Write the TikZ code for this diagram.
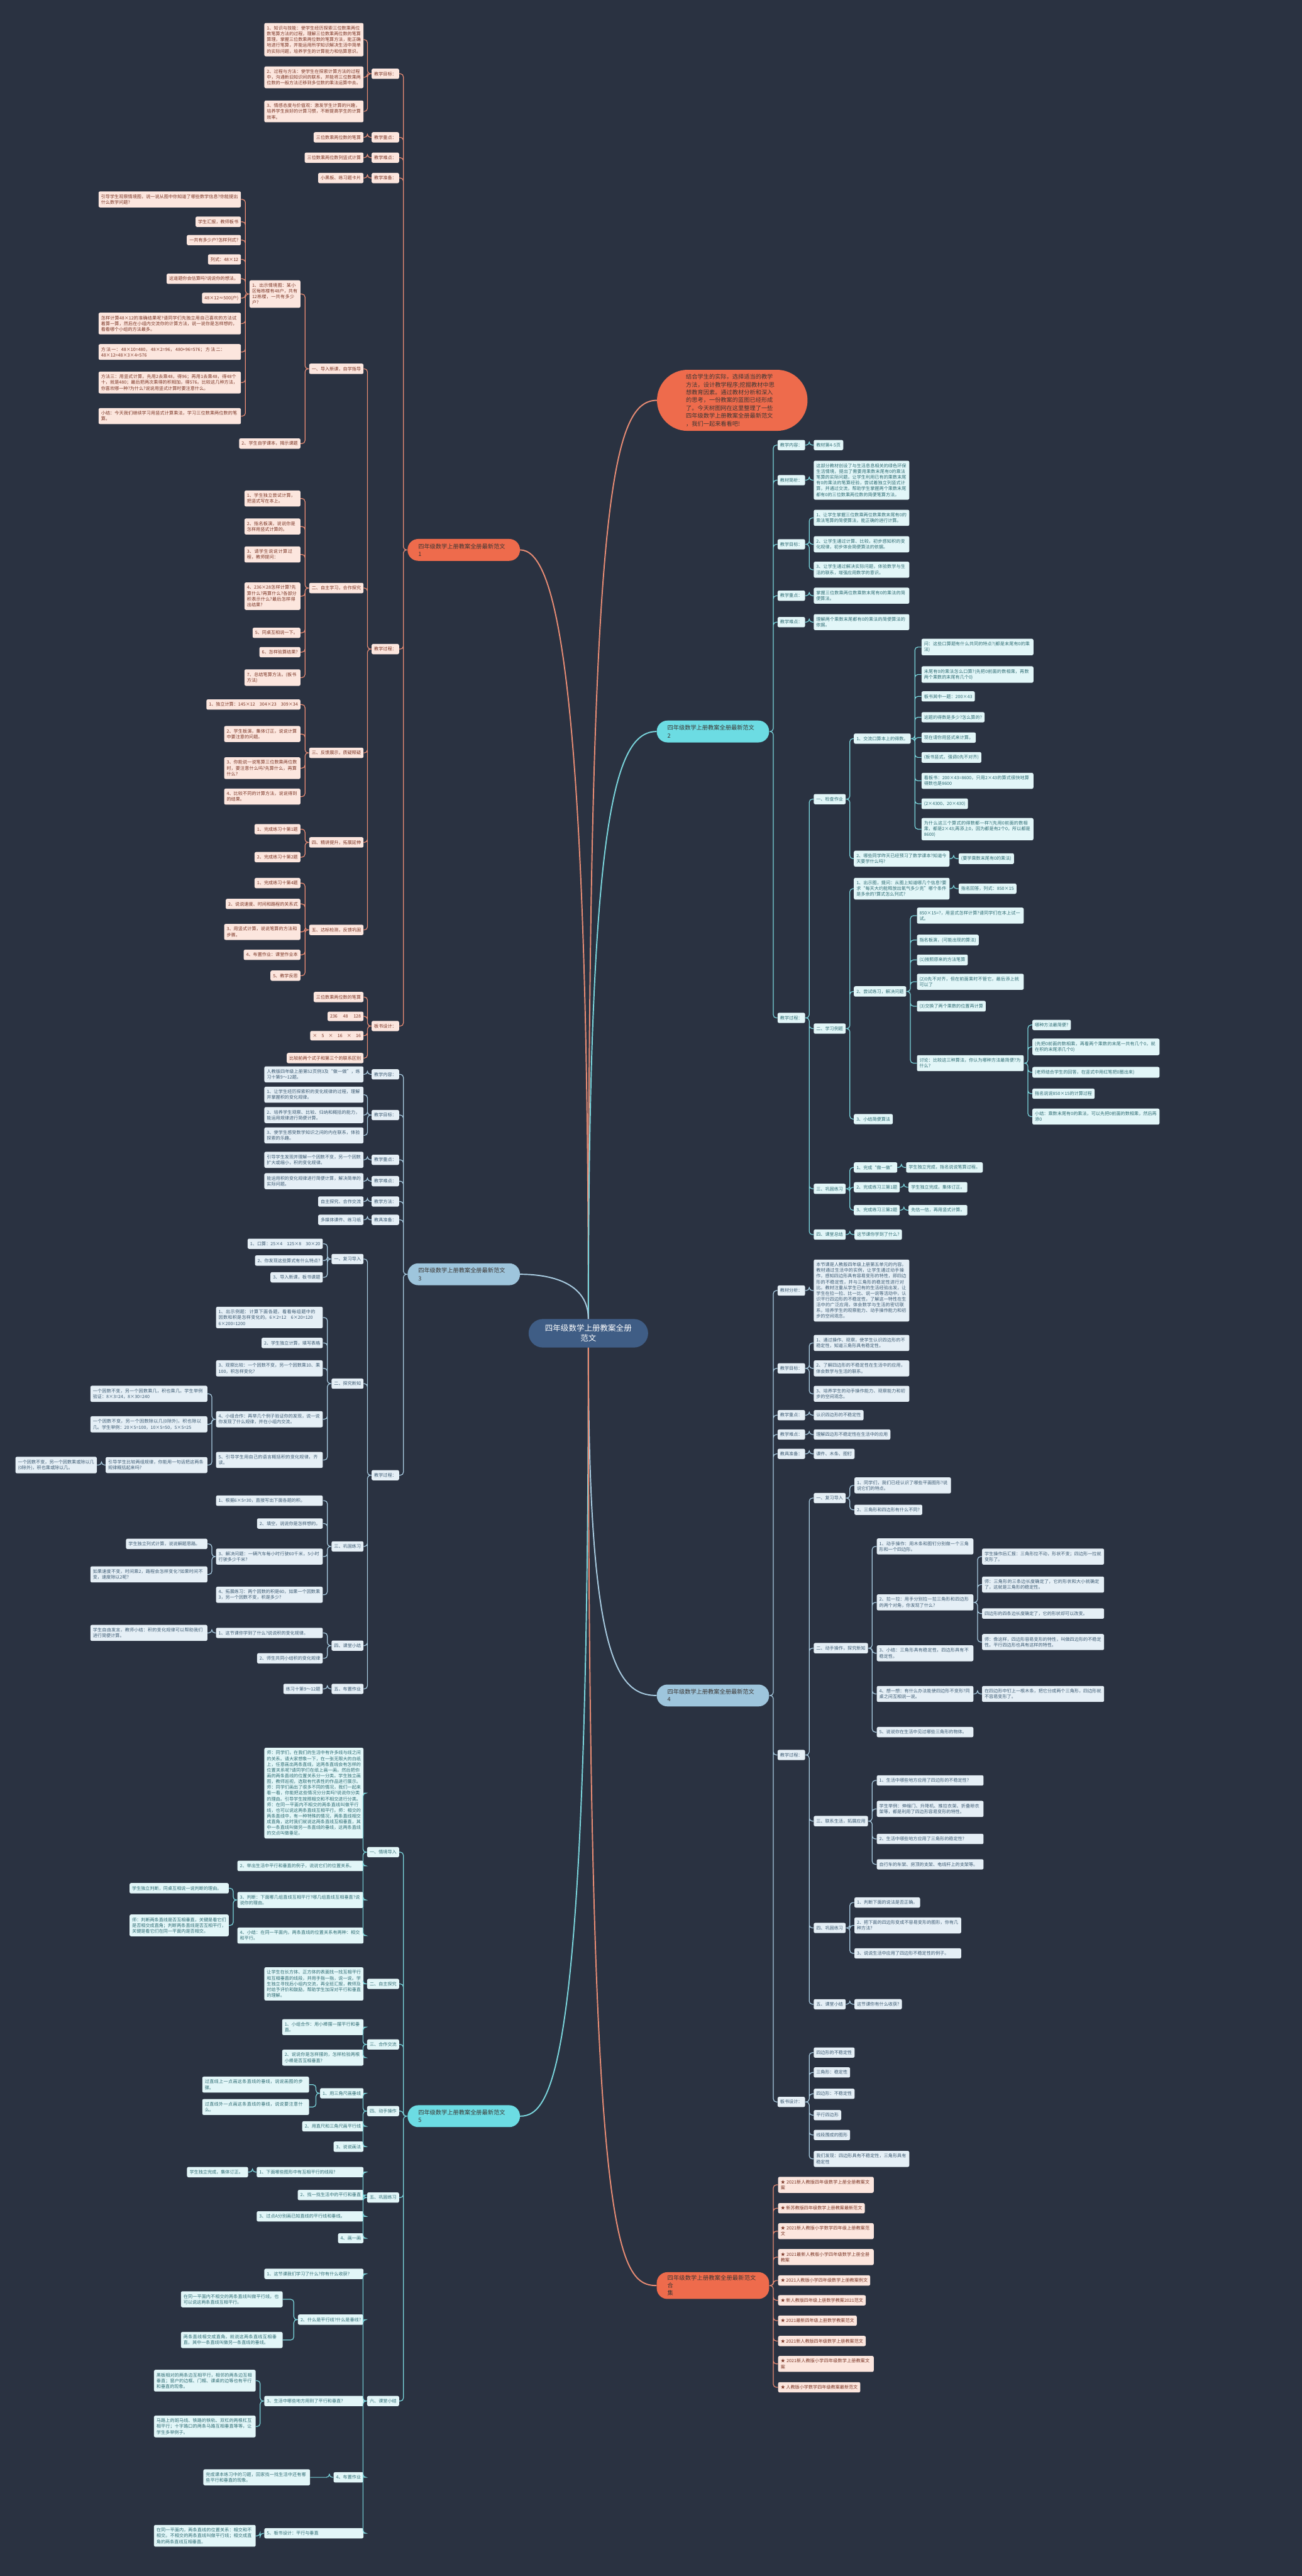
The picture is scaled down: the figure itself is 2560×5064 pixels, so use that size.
\documentclass[tikz,border=0pt]{standalone}
\usepackage{fontspec}
\setmainfont{Noto Sans CJK SC}
\XeTeXlinebreaklocale "zh"
\XeTeXlinebreakskip = 0pt plus 1pt
\usetikzlibrary{positioning}
\definecolor{bgc}{HTML}{2A3241}
\definecolor{hubc}{HTML}{3F5D85}
\definecolor{orn}{HTML}{EE6B4C}
\definecolor{ornln}{HTML}{E88C74}
\definecolor{ornbg}{HTML}{FCE6DE}
\definecolor{orntx}{HTML}{7A3424}
\definecolor{tea}{HTML}{6CDCE3}
\definecolor{tealn}{HTML}{7AD5DC}
\definecolor{teabg}{HTML}{E2F6F8}
\definecolor{teatx}{HTML}{2D6B72}
\definecolor{sky}{HTML}{9EC5DC}
\definecolor{skyln}{HTML}{A8CBE0}
\definecolor{skybg}{HTML}{E5EFF6}
\definecolor{skytx}{HTML}{3C5A72}
\definecolor{toptx}{HTML}{3B3633}

\begin{document}
\begin{tikzpicture}[x=1pt, y=-1pt,
  hub/.style={fill=hubc, text=white, rounded corners=28pt, minimum width=235pt, minimum height=56pt, align=center, font=\fontsize{15.5}{20}\selectfont},
  topic/.style={rounded corners=21pt, minimum width=221pt, minimum height=43pt, inner xsep=21pt, inner ysep=6pt, text width=179pt, align=left, text=toptx, font=\fontsize{11.4}{15}\selectfont},
  bubble/.style={fill=orn, rounded corners=60pt, minimum width=296pt, minimum height=120pt, text width=182pt, align=left, text=toptx, font=\fontsize{11.4}{15.3}\selectfont},
  leaf/.style={rounded corners=3pt, inner xsep=5pt, inner ysep=6pt, align=left, font=\fontsize{8.8}{11.3}\selectfont},
  ol/.style={leaf, fill=ornbg, text=orntx},
  tl/.style={leaf, fill=teabg, text=teatx},
  sl/.style={leaf, fill=skybg, text=skytx},
  link/.style={line width=1.5pt, rounded corners=6pt},
  main/.style={line width=2.4pt},
  lk/.style={to path={(\tikztostart.west) -- ++(-8,0) |- (\tikztotarget.east)}},
  rk/.style={to path={(\tikztostart.east) -- ++(8,0) |- (\tikztotarget.west)}}
]
\fill[bgc] (0,0) rectangle (2560,5064);
\useasboundingbox (0,0) rectangle (2560,5064);

% centre
\node[hub] (hub) at (1157,2621) {四年级数学上册教案全册\\范文};

% intro
\node[bubble] (intro) at (1440,787) {结合学生的实际，选择适当的教学\\方法，设计教学程序;挖掘教材中思\\想教育因素。通过教材分析和深入\\的思考，一份教案的蓝图已经形成\\了。今天树图网在这里整理了一些\\四年级数学上册教案全册最新范文\\，我们一起来看看吧!};

% ---------------- 范文1 ----------------
\node[topic, fill=orn] (m1) at (912,1081) {四年级数学上册教案全册最新范文\\1};
\node[ol, anchor=east] (goalA) at (785,145) {教学目标：};
\node[ol, anchor=east] (keyA) at (785,270) {教学重点：};
\node[ol, anchor=east] (hardA) at (785,310) {教学难点：};
\node[ol, anchor=east] (prepA) at (785,350) {教学准备：};
\node[ol, anchor=east] (procA) at (785,1276) {教学过程：};
\node[ol, anchor=east] (boardA) at (785,2017) {板书设计：};

\node[ol, anchor=east, text width=185pt] (goalA1) at (715,78) {1、知识与技能：使学生经历探索三位数乘两位数笔算方法的过程，理解三位数乘两位数的笔算算理，掌握三位数乘两位数的笔算方法，能正确地进行笔算，并能运用所学知识解决生活中简单的实际问题，培养学生的计算能力和估算意识。};
\node[ol, anchor=east, text width=185pt] (goalA2) at (715,152) {2、过程与方法：使学生在探索计算方法的过程中，沟通新旧知识间的联系，并能将三位数乘两位数的一般方法迁移到多位数的乘法运算中去。};
\node[ol, anchor=east, text width=185pt] (goalA3) at (715,219) {3、情感态度与价值观：激发学生计算的兴趣，培养学生良好的计算习惯，不断提高学生的计算效率。};
\node[ol, anchor=east] (keyA1) at (715,270) {三位数乘两位数的笔算};
\node[ol, anchor=east] (hardA1) at (715,310) {三位数乘两位数列竖式计算};
\node[ol, anchor=east] (prepA1) at (715,350) {小黑板、练习题卡片};

\node[ol, anchor=east] (procA1) at (715,725) {一、导入新课，自学指导};
\node[ol, anchor=east] (procA2) at (715,1156) {二、自主学习，合作探究};
\node[ol, anchor=east] (procA3) at (715,1480) {三、反馈展示，质疑释疑};
\node[ol, anchor=east] (procA4) at (715,1656) {四、精讲提升，拓展延伸};
\node[ol, anchor=east] (procA5) at (715,1828) {五、达标检测，反馈巩固};

\node[ol, anchor=east, text width=90pt] (introA1) at (591,578) {1、出示情境图：某小区每栋楼有48户，共有12栋楼，一共有多少户?};
\node[ol, anchor=east] (introA2) at (591,872) {2、学生自学课本，揭示课题};

\node[ol, anchor=east, text width=270pt] (sitA1) at (474,392) {引导学生观察情境图，说一说从图中你知道了哪些数学信息?你能提出什么数学问题?};
\node[ol, anchor=east] (sitA2) at (474,436) {学生汇报，教师板书};
\node[ol, anchor=east] (sitA3) at (474,472) {一共有多少户?怎样列式?};
\node[ol, anchor=east] (sitA4) at (474,510) {列式：48×12};
\node[ol, anchor=east] (sitA5) at (474,548) {这道题你会估算吗?说说你的想法。};
\node[ol, anchor=east] (sitA6) at (474,586) {48×12≈500(户)};
\node[ol, anchor=east, text width=270pt] (sitA7) at (474,636) {怎样计算48×12的准确结果呢?请同学们先独立用自己喜欢的方法试着算一算，然后在小组内交流你的计算方法，说一说你是怎样想的，看看哪个小组的方法最多。};
\node[ol, anchor=east, text width=270pt] (sitA8) at (474,692) {方法一：48×10=480，48×2=96，480+96=576；方法二：48×12=48×3×4=576};
\node[ol, anchor=east, text width=270pt] (sitA9) at (474,752) {方法三：用竖式计算，先用2去乘48，得96；再用1去乘48，得48个十，就是480；最后把两次乘得的积相加，得576。比较这几种方法，你喜欢哪一种?为什么?说说用竖式计算时要注意什么。};
\node[ol, anchor=east, text width=270pt] (sitA10) at (474,818) {小结：今天我们继续学习用竖式计算乘法，学习三位数乘两位数的笔算。};

\node[ol, anchor=east, text width=100pt] (selfA1) at (591,980) {1、学生独立尝试计算，把竖式写在本上。};
\node[ol, anchor=east, text width=100pt] (selfA2) at (591,1035) {2、指名板演，说说你是怎样用竖式计算的。};
\node[ol, anchor=east, text width=100pt] (selfA3) at (591,1090) {3、请学生说说计算过程，教师提问：};
\node[ol, anchor=east, text width=100pt] (selfA4) at (591,1172) {4、236×28怎样计算?先算什么?再算什么?各部分积表示什么?最后怎样得出结果?};
\node[ol, anchor=east] (selfA5) at (591,1244) {5、同桌互相说一下。};
\node[ol, anchor=east] (selfA6) at (591,1282) {6、怎样验算结果?};
\node[ol, anchor=east, text width=100pt] (selfA7) at (591,1332) {7、总结笔算方法。(板书方法)};

\node[ol, anchor=east] (showA1) at (591,1385) {1、独立计算：145×12　304×23　309×34};
\node[ol, anchor=east, text width=140pt] (showA2) at (591,1443) {2、学生板演，集体订正，说说计算中要注意的问题。};
\node[ol, anchor=east, text width=140pt] (showA3) at (591,1510) {3、你能说一说笔算三位数乘两位数时，要注意什么吗?先算什么，再算什么?};
\node[ol, anchor=east, text width=140pt] (showA4) at (591,1566) {4、比较不同的计算方法，说说得到的结果。};
\node[ol, anchor=east] (upA1) at (591,1630) {1、完成练习十第1题};
\node[ol, anchor=east] (upA2) at (591,1685) {2、完成练习十第2题};
\node[ol, anchor=east] (testA1) at (591,1736) {1、完成练习十第4题};
\node[ol, anchor=east] (testA2) at (591,1777) {2、说说速度、时间和路程的关系式};
\node[ol, anchor=east, text width=140pt] (testA3) at (591,1832) {3、用竖式计算，说说笔算的方法和步骤。};
\node[ol, anchor=east] (testA4) at (591,1877) {4、布置作业：课堂作业本};
\node[ol, anchor=east] (testA5) at (591,1918) {5、教学反思};

\node[ol, anchor=east] (boardA1) at (715,1960) {三位数乘两位数的笔算};
\node[ol, anchor=east] (boardA2) at (715,1998) {236　 48　 128};
\node[ol, anchor=east] (boardA3) at (715,2036) {×　5　×　16　×　16};
\node[ol, anchor=east] (boardA4) at (715,2080) {比较前两个式子和第三个的联系区别};

\draw[link, draw=ornln, lk] (m1) to (goalA) (m1) to (keyA) (m1) to (hardA) (m1) to (prepA) (m1) to (procA) (m1) to (boardA);
\draw[link, draw=ornln, lk] (goalA) to (goalA1) (goalA) to (goalA2) (goalA) to (goalA3);
\draw[link, draw=ornln, lk] (keyA) to (keyA1) (hardA) to (hardA1) (prepA) to (prepA1);
\draw[link, draw=ornln, lk] (procA) to (procA1) (procA) to (procA2) (procA) to (procA3) (procA) to (procA4) (procA) to (procA5);
\draw[link, draw=ornln, lk] (procA1) to (introA1) (procA1) to (introA2);
\draw[link, draw=ornln, lk] (introA1) to (sitA1) (introA1) to (sitA2) (introA1) to (sitA3) (introA1) to (sitA4) (introA1) to (sitA5) (introA1) to (sitA6) (introA1) to (sitA7) (introA1) to (sitA8) (introA1) to (sitA9) (introA1) to (sitA10);
\draw[link, draw=ornln, lk] (procA2) to (selfA1) (procA2) to (selfA2) (procA2) to (selfA3) (procA2) to (selfA4) (procA2) to (selfA5) (procA2) to (selfA6) (procA2) to (selfA7);
\draw[link, draw=ornln, lk] (procA3) to (showA1) (procA3) to (showA2) (procA3) to (showA3) (procA3) to (showA4);
\draw[link, draw=ornln, lk] (procA4) to (upA1) (procA4) to (upA2);
\draw[link, draw=ornln, lk] (procA5) to (testA1) (procA5) to (testA2) (procA5) to (testA3) (procA5) to (testA4) (procA5) to (testA5);
\draw[link, draw=ornln, lk] (boardA) to (boardA1) (boardA) to (boardA2) (boardA) to (boardA3) (boardA) to (boardA4);

% ---------------- 范文2 ----------------
\node[topic, fill=tea] (m2) at (1402,1438) {四年级数学上册教案全册最新范文\\2};
\node[tl, anchor=west] (contC) at (1529,875) {教学内容：};
\node[tl, anchor=west] (anaC) at (1529,944) {教材简析：};
\node[tl, anchor=west] (goalC) at (1529,1070) {教学目标：};
\node[tl, anchor=west] (keyC) at (1529,1171) {教学重点：};
\node[tl, anchor=west] (hardC) at (1529,1223) {教学难点：};
\node[tl, anchor=west] (procC) at (1529,2001) {教学过程：};

\node[tl, anchor=west] (contC1) at (1600,875) {教材第4-5页};
\node[tl, anchor=west, text width=178pt] (anaC1) at (1600,944) {这部分教材创设了与生活息息相关的绿色环保生活情境，提出了需要用乘数末尾有0的乘法笔算的实际问题，让学生利用已有的乘数末尾有0的乘法的笔算经验，尝试着独立列竖式计算，并通过交流，帮助学生掌握两个乘数末尾都有0的三位数乘两位数的简便笔算方法。};
\node[tl, anchor=west, text width=178pt] (goalC1) at (1600,1018) {1、让学生掌握三位数乘两位数乘数末尾有0的乘法笔算的简便算法，能正确的进行计算。};
\node[tl, anchor=west, text width=178pt] (goalC2) at (1600,1070) {2、让学生通过计算、比较，初步感知积的变化规律，初步体会简便算法的依据。};
\node[tl, anchor=west, text width=178pt] (goalC3) at (1600,1120) {3、让学生通过解决实际问题，体验数学与生活的联系，增强应用数学的意识。};
\node[tl, anchor=west, text width=178pt] (keyC1) at (1600,1171) {掌握三位数乘两位数乘数末尾有0的乘法的简便算法。};
\node[tl, anchor=west, text width=178pt] (hardC1) at (1600,1223) {理解两个乘数末尾都有0的乘法的简便算法的依据。};

\node[tl, anchor=west] (procC1) at (1600,1571) {一、检查作业};
\node[tl, anchor=west] (procC2) at (1600,2022) {二、学习例题};
\node[tl, anchor=west] (procC3) at (1600,2337) {三、巩固练习};
\node[tl, anchor=west] (procC4) at (1600,2427) {四、课堂总结};

\node[tl, anchor=west] (checkC1) at (1679,1452) {1、交流口算本上的得数。};
\node[tl, anchor=west, text width=178pt] (checkC2) at (1679,1688) {2、哪些同学昨天已经预习了数学课本?知道今天要学什么吗?};
\node[tl, anchor=west, text width=210pt] (oralC1) at (1812,1272) {问：这些口算题有什么共同的特点?(都是末尾有0的乘法)};
\node[tl, anchor=west, text width=210pt] (oralC2) at (1812,1326) {末尾有0的乘法怎么口算?(先把0前面的数相乘，再数两个乘数的末尾有几个0)};
\node[tl, anchor=west] (oralC3) at (1812,1369) {板书其中一题：200×43};
\node[tl, anchor=west] (oralC4) at (1812,1410) {这题的得数是多少?怎么算的?};
\node[tl, anchor=west] (oralC5) at (1812,1450) {现在请你用竖式来计算。};
\node[tl, anchor=west] (oralC6) at (1812,1489) {(板书竖式，强调0先不对齐)};
\node[tl, anchor=west, text width=210pt] (oralC7) at (1812,1535) {看板书：200×43=8600，只用2×43的算式很快地算得数也是8600};
\node[tl, anchor=west] (oralC8) at (1812,1580) {(2×4300、20×430)};
\node[tl, anchor=west, text width=210pt] (oralC9) at (1812,1630) {为什么这三个算式的得数都一样?(先用0前面的数相乘，都是2×43;再添上0，因为都是有2个0，所以都是8600)};
\node[tl, anchor=west] (preC1) at (1885,1688) {(要学乘数末尾有0的乘法)};

\node[tl, anchor=west, text width=178pt] (exC1) at (1679,1747) {1、出示图，提问：从图上知道哪几个信息?要求“每天大约能释放出氧气多少克”哪个条件是多余的?算式怎么列式?};
\node[tl, anchor=west] (exC1a) at (1885,1747) {指名回答，列式：850×15};
\node[tl, anchor=west] (exC2) at (1679,1949) {2、尝试练习，解决问题};
\node[tl, anchor=west] (exC3) at (1679,2200) {3、小结简便算法};
\node[tl, anchor=west, text width=200pt] (tryC1) at (1803,1800) {850×15=?，用竖式怎样计算?请同学们在本上试一试。};
\node[tl, anchor=west] (tryC2) at (1803,1848) {指名板演，(可能出现的算法)};
\node[tl, anchor=west] (tryC3) at (1803,1887) {(1)按照原来的方法笔算};
\node[tl, anchor=west, text width=200pt] (tryC4) at (1803,1930) {(2)0先不对齐，但在前面乘时不管它，最后添上就可以了};
\node[tl, anchor=west] (tryC5) at (1803,1978) {(3)交换了两个乘数的位置再计算};
\node[tl, anchor=west, text width=200pt] (tryC6) at (1803,2090) {讨论：比较这三种算法，你认为哪种方法最简便?为什么?};
\node[tl, anchor=west] (talkC1) at (2030,2015) {哪种方法最简便?};
\node[tl, anchor=west, text width=240pt] (talkC2) at (2030,2058) {(先把0前面的数相乘，再看两个乘数的末尾一共有几个0，就在积的末尾添几个0)};
\node[tl, anchor=west, text width=240pt] (talkC3) at (2030,2108) {(老师结合学生的回答，在竖式中用红笔把0圈出来)};
\node[tl, anchor=west] (talkC4) at (2030,2150) {指名说说850×15的计算过程};
\node[tl, anchor=west, text width=240pt] (talkC5) at (2030,2195) {小结：乘数末尾有0的乘法，可以先把0前面的数相乘，然后再添0};

\node[tl, anchor=west] (pracC1) at (1679,2295) {1、完成“做一做”};
\node[tl, anchor=west] (pracC2) at (1679,2334) {2、完成练习三第1题};
\node[tl, anchor=west] (pracC3) at (1679,2379) {3、完成练习三第2题};
\node[tl, right=17pt of pracC1] (pracC1a) {学生独立完成，指名说说笔算过程。};
\node[tl, right=17pt of pracC2] (pracC2a) {学生独立完成，集体订正。};
\node[tl, right=17pt of pracC3] (pracC3a) {先估一估，再用竖式计算。};
\node[tl, right=17pt of procC4] (sumC1) {这节课你学到了什么?};

\draw[link, draw=tealn, rk] (m2) to (contC) (m2) to (anaC) (m2) to (goalC) (m2) to (keyC) (m2) to (hardC) (m2) to (procC);
\draw[link, draw=tealn, rk] (contC) to (contC1) (anaC) to (anaC1) (keyC) to (keyC1) (hardC) to (hardC1);
\draw[link, draw=tealn, rk] (goalC) to (goalC1) (goalC) to (goalC2) (goalC) to (goalC3);
\draw[link, draw=tealn, rk] (procC) to (procC1) (procC) to (procC2) (procC) to (procC3) (procC) to (procC4);
\draw[link, draw=tealn, rk] (procC1) to (checkC1) (procC1) to (checkC2);
\draw[link, draw=tealn, rk] (checkC1) to (oralC1) (checkC1) to (oralC2) (checkC1) to (oralC3) (checkC1) to (oralC4) (checkC1) to (oralC5) (checkC1) to (oralC6) (checkC1) to (oralC7) (checkC1) to (oralC8) (checkC1) to (oralC9);
\draw[link, draw=tealn, rk] (checkC2) to (preC1);
\draw[link, draw=tealn, rk] (procC2) to (exC1) (procC2) to (exC2) (procC2) to (exC3) (exC1) to (exC1a);
\draw[link, draw=tealn, rk] (exC2) to (tryC1) (exC2) to (tryC2) (exC2) to (tryC3) (exC2) to (tryC4) (exC2) to (tryC5) (exC2) to (tryC6);
\draw[link, draw=tealn, rk] (tryC6) to (talkC1) (tryC6) to (talkC2) (tryC6) to (talkC3) (tryC6) to (talkC4) (tryC6) to (talkC5);
\draw[link, draw=tealn, rk] (procC3) to (pracC1) (procC3) to (pracC2) (procC3) to (pracC3);
\draw[link, draw=tealn, rk] (pracC1) to (pracC1a) (pracC2) to (pracC2a) (pracC3) to (pracC3a) (procC4) to (sumC1);

% ---------------- 范文3 ----------------
\node[topic, fill=sky] (m3) at (912,2505) {四年级数学上册教案全册最新范文\\3};
\node[sl, anchor=east] (contD) at (785,2112) {教学内容：};
\node[sl, anchor=east] (goalD) at (785,2192) {教学目标：};
\node[sl, anchor=east] (keyD) at (785,2280) {教学重点：};
\node[sl, anchor=east] (hardD) at (785,2322) {教学难点：};
\node[sl, anchor=east] (methD) at (785,2362) {教学方法：};
\node[sl, anchor=east] (prepD) at (785,2398) {教具准备：};
\node[sl, anchor=east] (procD) at (785,2900) {教学过程：};

\node[sl, anchor=east, text width=185pt] (contD1) at (715,2112) {人教版四年级上册第52页例3及“做一做”，练习十第9～12题。};
\node[sl, anchor=east, text width=185pt] (goalD1) at (715,2152) {1、让学生经历探索积的变化规律的过程，理解并掌握积的变化规律。};
\node[sl, anchor=east, text width=185pt] (goalD2) at (715,2192) {2、培养学生观察、比较、归纳和概括的能力，能运用规律进行简便计算。};
\node[sl, anchor=east, text width=185pt] (goalD3) at (715,2232) {3、使学生感受数学知识之间的内在联系，体验探索的乐趣。};
\node[sl, anchor=east, text width=185pt] (keyD1) at (715,2280) {引导学生发现并理解一个因数不变，另一个因数扩大或缩小，积的变化规律。};
\node[sl, anchor=east, text width=185pt] (hardD1) at (715,2322) {能运用积的变化规律进行简便计算，解决简单的实际问题。};
\node[sl, anchor=east] (methD1) at (715,2362) {自主探究、合作交流};
\node[sl, anchor=east] (prepD1) at (715,2398) {多媒体课件、练习纸};

\node[sl, anchor=east] (procD1) at (715,2475) {一、复习导入};
\node[sl, anchor=east] (procD2) at (715,2720) {二、探究新知};
\node[sl, anchor=east] (procD3) at (715,3040) {三、巩固练习};
\node[sl, anchor=east] (procD4) at (715,3235) {四、课堂小结};
\node[sl, anchor=east] (procD5) at (715,3320) {五、布置作业};

\node[sl, anchor=east] (revD1) at (635,2445) {1、口算：25×4　125×8　30×20};
\node[sl, anchor=east] (revD2) at (635,2478) {2、你发现这些算式有什么特点?};
\node[sl, anchor=east] (revD3) at (635,2511) {3、导入新课，板书课题};
\node[sl, anchor=east, text width=200pt] (expD1) at (635,2590) {1、出示例题：计算下面各题，看看每组题中的因数和积是怎样变化的。6×2=12　6×20=120　6×200=1200};
\node[sl, anchor=east] (expD2) at (635,2640) {2、学生独立计算，填写表格};
\node[sl, anchor=east, text width=200pt] (expD3) at (635,2690) {3、观察比较：一个因数不变，另一个因数乘10、乘100，积怎样变化?};
\node[sl, anchor=east, text width=200pt] (expD4) at (635,2790) {4、小组合作：再举几个例子验证你的发现，说一说你发现了什么规律，并在小组内交流。};
\node[sl, anchor=east, text width=200pt] (expD5) at (635,2870) {5、引导学生用自己的语言概括积的变化规律，齐读。};
\node[sl, anchor=east, text width=220pt] (grpD1) at (408,2740) {一个因数不变，另一个因数乘几，积也乘几。学生举例验证：8×3=24，8×30=240};
\node[sl, anchor=east, text width=220pt] (grpD2) at (408,2800) {一个因数不变，另一个因数除以几(0除外)，积也除以几。学生举例：20×5=100，10×5=50，5×5=25};
\node[sl, anchor=east, text width=190pt] (grpD3) at (408,2880) {引导学生比较两组规律，你能用一句话把这两条规律概括起来吗?};
\node[sl, left=17pt of grpD3, text width=150pt] (farD) {一个因数不变，另一个因数乘或除以几(0除外)，积也乘或除以几。};

\node[sl, anchor=east, text width=200pt] (pracD1) at (635,2950) {1、根据6×5=30，直接写出下面各题的积。};
\node[sl, anchor=east] (pracD2) at (635,2995) {2、填空，说说你是怎样想的。};
\node[sl, anchor=east, text width=200pt] (pracD3) at (635,3060) {3、解决问题：一辆汽车每小时行驶60千米，5小时行驶多少千米?};
\node[sl, anchor=east, text width=200pt] (pracD4) at (635,3135) {4、拓展练习：两个因数的积是60，如果一个因数乘3，另一个因数不变，积是多少?};
\node[sl, anchor=east, text width=150pt] (solD1) at (408,3035) {学生独立列式计算，说说解题思路。};
\node[sl, anchor=east, text width=220pt] (solD2) at (408,3095) {如果速度不变，时间乘2，路程会怎样变化?如果时间不变，速度除以2呢?};
\node[sl, anchor=east, text width=200pt] (sumD1) at (635,3210) {1、这节课你学到了什么?说说积的变化规律。};
\node[sl, anchor=east, text width=220pt] (sumD1a) at (408,3210) {学生自由发言，教师小结：积的变化规律可以帮助我们进行简便计算。};
\node[sl, anchor=east] (sumD2) at (635,3260) {2、师生共同小结积的变化规律};
\node[sl, anchor=east] (homeD1) at (635,3320) {练习十第9～12题};

\draw[link, draw=skyln, lk] (m3) to (contD) (m3) to (goalD) (m3) to (keyD) (m3) to (hardD) (m3) to (methD) (m3) to (prepD) (m3) to (procD);
\draw[link, draw=skyln, lk] (contD) to (contD1) (keyD) to (keyD1) (hardD) to (hardD1) (methD) to (methD1) (prepD) to (prepD1);
\draw[link, draw=skyln, lk] (goalD) to (goalD1) (goalD) to (goalD2) (goalD) to (goalD3);
\draw[link, draw=skyln, lk] (procD) to (procD1) (procD) to (procD2) (procD) to (procD3) (procD) to (procD4) (procD) to (procD5);
\draw[link, draw=skyln, lk] (procD1) to (revD1) (procD1) to (revD2) (procD1) to (revD3);
\draw[link, draw=skyln, lk] (procD2) to (expD1) (procD2) to (expD2) (procD2) to (expD3) (procD2) to (expD4) (procD2) to (expD5);
\draw[link, draw=skyln, lk] (expD4) to (grpD1) (expD4) to (grpD2) (expD4) to (grpD3) (grpD3) to (farD);
\draw[link, draw=skyln, lk] (procD3) to (pracD1) (procD3) to (pracD2) (procD3) to (pracD3) (procD3) to (pracD4);
\draw[link, draw=skyln, lk] (pracD3) to (solD1) (pracD3) to (solD2);
\draw[link, draw=skyln, lk] (procD4) to (sumD1) (procD4) to (sumD2) (sumD1) to (sumD1a) (procD5) to (homeD1);

% ---------------- 范文4 ----------------
\node[topic, fill=sky] (m4) at (1402,3333) {四年级数学上册教案全册最新范文\\4};
\node[sl, anchor=west] (anaE) at (1529,2537) {教材分析：};
\node[sl, anchor=west] (goalE) at (1529,2690) {教学目标：};
\node[sl, anchor=west] (keyE) at (1529,2782) {教学重点：};
\node[sl, anchor=west] (hardE) at (1529,2820) {教学难点：};
\node[sl, anchor=west] (prepE) at (1529,2858) {教具准备：};
\node[sl, anchor=west] (procE) at (1529,3450) {教学过程：};
\node[sl, anchor=west] (boardE) at (1529,4132) {板书设计：};

\node[sl, anchor=west, text width=178pt] (anaE1) at (1600,2537) {本节课是人教版四年级上册第五单元的内容。教材通过生活中的实例，让学生通过动手操作，感知四边形具有容易变形的特性，即四边形的不稳定性，并与三角形的稳定性进行对比。教材注重从学生已有的生活经验出发，让学生在拉一拉、比一比、说一说等活动中，认识平行四边形的不稳定性，了解这一特性在生活中的广泛应用，体会数学与生活的密切联系，培养学生的观察能力、动手操作能力和初步的空间观念。};
\node[sl, anchor=west, text width=178pt] (goalE1) at (1600,2640) {1、通过操作、观察，使学生认识四边形的不稳定性，知道三角形具有稳定性。};
\node[sl, anchor=west, text width=178pt] (goalE2) at (1600,2690) {2、了解四边形的不稳定性在生活中的应用，体会数学与生活的联系。};
\node[sl, anchor=west, text width=178pt] (goalE3) at (1600,2740) {3、培养学生的动手操作能力、观察能力和初步的空间观念。};
\node[sl, anchor=west] (keyE1) at (1600,2782) {认识四边形的不稳定性};
\node[sl, anchor=west] (hardE1) at (1600,2820) {理解四边形不稳定性在生活中的应用};
\node[sl, anchor=west] (prepE1) at (1600,2858) {课件、木条、图钉};

\node[sl, anchor=west] (procE1) at (1600,2945) {一、复习导入};
\node[sl, anchor=west] (procE2) at (1600,3240) {二、动手操作，探究新知};
\node[sl, anchor=west] (procE3) at (1600,3580) {三、联系生活，拓展应用};
\node[sl, anchor=west] (procE4) at (1600,3790) {四、巩固练习};
\node[sl, anchor=west] (procE5) at (1600,3940) {五、课堂小结};

\node[sl, anchor=west, text width=180pt] (revE1) at (1680,2920) {1、同学们，我们已经认识了哪些平面图形?说说它们的特点。};
\node[sl, anchor=west] (revE2) at (1680,2968) {2、三角形和四边形有什么不同?};
\node[sl, anchor=west, text width=180pt] (opE1) at (1724,3040) {1、动手操作：用木条和图钉分别做一个三角形和一个四边形。};
\node[sl, anchor=west, text width=180pt] (opE2) at (1724,3150) {2、拉一拉：用手分别拉一拉三角形和四边形的两个对角，你发现了什么?};
\node[sl, anchor=west, text width=180pt] (opE3) at (1724,3250) {3、小结：三角形具有稳定性，四边形具有不稳定性。};
\node[sl, anchor=west, text width=180pt] (opE4) at (1724,3330) {4、想一想：有什么办法能使四边形不变形?同桌之间互相说一说。};
\node[sl, anchor=west, text width=180pt] (opE5) at (1724,3405) {5、说说你在生活中见过哪些三角形的物体。};
\node[sl, anchor=west, text width=230pt] (obsE1) at (1931,3060) {学生操作后汇报：三角形拉不动，形状不变；四边形一拉就变形了。};
\node[sl, anchor=west, text width=230pt] (obsE2) at (1931,3115) {师：三角形的三条边长度确定了，它的形状和大小就确定了，这就是三角形的稳定性。};
\node[sl, anchor=west, text width=230pt] (obsE3) at (1931,3172) {四边形的四条边长度确定了，它的形状却可以改变。};
\node[sl, anchor=west, text width=230pt] (obsE4) at (1931,3228) {师：像这样，四边形容易变形的特性，叫做四边形的不稳定性。平行四边形也具有这样的特性。};
\node[sl, anchor=west, text width=230pt] (obsE5) at (1931,3330) {在四边形中钉上一根木条，把它分成两个三角形，四边形就不容易变形了。};
\node[sl, anchor=west, text width=200pt] (useE1) at (1724,3500) {1、生活中哪些地方应用了四边形的不稳定性?};
\node[sl, anchor=west, text width=200pt] (useE2) at (1724,3556) {学生举例：伸缩门、升降机、推拉衣架、折叠晾衣架等，都是利用了四边形容易变形的特性。};
\node[sl, anchor=west, text width=200pt] (useE3) at (1724,3615) {2、生活中哪些地方应用了三角形的稳定性?};
\node[sl, anchor=west, text width=200pt] (useE4) at (1724,3665) {自行车的车架、房顶的支架、电线杆上的支架等。};
\node[sl, anchor=west] (exE1) at (1680,3740) {1、判断下面的说法是否正确。};
\node[sl, anchor=west, text width=200pt] (exE2) at (1680,3785) {2、把下面的四边形变成不容易变形的图形，你有几种方法?};
\node[sl, anchor=west, text width=200pt] (exE3) at (1680,3840) {3、说说生活中应用了四边形不稳定性的例子。};
\node[sl, anchor=west] (sumE1) at (1680,3940) {这节课你有什么收获?};

\node[sl, anchor=west] (boardE1) at (1600,4035) {四边形的不稳定性};
\node[sl, anchor=west] (boardE2) at (1600,4074) {三角形：稳定性};
\node[sl, anchor=west] (boardE3) at (1600,4116) {四边形：不稳定性};
\node[sl, anchor=west] (boardE4) at (1600,4158) {平行四边形};
\node[sl, anchor=west] (boardE5) at (1600,4197) {线段围成的图形};
\node[sl, anchor=west, text width=178pt] (boardE6) at (1600,4244) {我们发现：四边形具有不稳定性，三角形具有稳定性};

\draw[link, draw=skyln, rk] (m4) to (anaE) (m4) to (goalE) (m4) to (keyE) (m4) to (hardE) (m4) to (prepE) (m4) to (procE) (m4) to (boardE);
\draw[link, draw=skyln, rk] (anaE) to (anaE1) (keyE) to (keyE1) (hardE) to (hardE1) (prepE) to (prepE1);
\draw[link, draw=skyln, rk] (goalE) to (goalE1) (goalE) to (goalE2) (goalE) to (goalE3);
\draw[link, draw=skyln, rk] (procE) to (procE1) (procE) to (procE2) (procE) to (procE3) (procE) to (procE4) (procE) to (procE5);
\draw[link, draw=skyln, rk] (procE1) to (revE1) (procE1) to (revE2);
\draw[link, draw=skyln, rk] (procE2) to (opE1) (procE2) to (opE2) (procE2) to (opE3) (procE2) to (opE4) (procE2) to (opE5);
\draw[link, draw=skyln, rk] (opE2) to (obsE1) (opE2) to (obsE2) (opE2) to (obsE3) (opE2) to (obsE4) (opE4) to (obsE5);
\draw[link, draw=skyln, rk] (procE3) to (useE1) (procE3) to (useE2) (procE3) to (useE3) (procE3) to (useE4);
\draw[link, draw=skyln, rk] (procE4) to (exE1) (procE4) to (exE2) (procE4) to (exE3) (procE5) to (sumE1);
\draw[link, draw=skyln, rk] (boardE) to (boardE1) (boardE) to (boardE2) (boardE) to (boardE3) (boardE) to (boardE4) (boardE) to (boardE5) (boardE) to (boardE6);

% ---------------- 范文5 ----------------
\node[topic, fill=tea] (m5) at (912,4160) {四年级数学上册教案全册最新范文\\5};
\node[tl, anchor=east] (stepF1) at (785,3641) {一、情境导入};
\node[tl, anchor=east] (stepF2) at (785,3900) {二、自主探究};
\node[tl, anchor=east] (stepF3) at (785,4019) {三、合作交流};
\node[tl, anchor=east] (stepF4) at (785,4150) {四、动手操作};
\node[tl, anchor=east] (stepF5) at (785,4320) {五、巩固练习};
\node[tl, anchor=east] (stepF6) at (785,4720) {六、课堂小结};

\node[tl, anchor=east, text width=185pt] (paraF) at (715,3525) {师：同学们，在我们的生活中有许多线与线之间的关系。请大家想象一下，在一张无限大的白纸上，任意画出两条直线，这两条直线会有怎样的位置关系呢?请同学们在纸上画一画，然后把你画的两条直线的位置关系分一分类。学生独立画图，教师巡视，选取有代表性的作品进行展示。师：同学们画出了很多不同的情况，我们一起来看一看，你能把这些情况分分类吗?说说你分类的理由。引导学生按照相交和不相交进行分类。师：在同一平面内不相交的两条直线叫做平行线，也可以说这两条直线互相平行。师：相交的两条直线中，有一种特殊的情况，两条直线相交成直角，这时我们就说这两条直线互相垂直，其中一条直线叫做另一条直线的垂线，这两条直线的交点叫做垂足。};
\node[tl, anchor=east, text width=238pt] (askF1) at (715,3668) {2、举出生活中平行和垂直的例子，说说它们的位置关系。};
\node[tl, anchor=east, text width=238pt] (askF2) at (715,3735) {3、判断：下面哪几组直线互相平行?哪几组直线互相垂直?说说你的理由。};
\node[tl, anchor=east, text width=238pt] (askF3) at (715,3805) {4、小结：在同一平面内，两条直线的位置关系有两种：相交和平行。};
\node[tl, anchor=east, text width=185pt] (kidF1) at (450,3712) {学生独立判断，同桌互相说一说判断的理由。};
\node[tl, anchor=east, text width=185pt] (kidF2) at (450,3785) {师：判断两条直线是否互相垂直，关键是看它们是否相交成直角；判断两条直线是否互相平行，关键是看它们在同一平面内是否相交。};
\node[tl, anchor=east, text width=185pt] (findF1) at (715,3900) {让学生在长方体、正方体的表面找一找互相平行和互相垂直的线段，并用手指一指，说一说。学生独立寻找后小组内交流，再全班汇报，教师及时给予评价和鼓励，帮助学生加深对平行和垂直的理解。};
\node[tl, anchor=east, text width=150pt] (talkF1) at (715,3985) {1、小组合作：用小棒摆一摆平行和垂直。};
\node[tl, anchor=east, text width=150pt] (talkF2) at (715,4045) {2、说说你是怎样摆的，怎样检验两根小棒是否互相垂直?};
\node[tl, anchor=east] (drawF1) at (715,4115) {1、用三角尺画垂线};
\node[tl, anchor=east, text width=200pt] (drawF1a) at (608,4098) {过直线上一点画这条直线的垂线，说说画图的步骤。};
\node[tl, anchor=east, text width=200pt] (drawF1b) at (608,4142) {过直线外一点画这条直线的垂线，说说要注意什么。};
\node[tl, anchor=east] (drawF2) at (715,4180) {2、用直尺和三角尺画平行线};
\node[tl, anchor=east] (drawF3) at (715,4220) {3、说说画法};
\node[tl, anchor=east, text width=200pt] (pracF1) at (715,4270) {1、下面哪些图形中有互相平行的线段?};
\node[tl, anchor=east, text width=110pt] (pracF1a) at (488,4270) {学生独立完成，集体订正。};
\node[tl, anchor=east] (pracF2) at (715,4315) {2、找一找生活中的平行和垂直};
\node[tl, anchor=east, text width=200pt] (pracF3) at (715,4357) {3、过点A分别画已知直线的平行线和垂线。};
\node[tl, anchor=east] (pracF4) at (715,4400) {4、画一画};

\node[tl, anchor=east, text width=185pt] (endF1) at (715,4470) {1、这节课我们学习了什么?你有什么收获?};
\node[tl, anchor=east] (endF2) at (715,4560) {2、什么是平行线?什么是垂线?};
\node[tl, anchor=east, text width=190pt] (endF2a) at (556,4520) {在同一平面内不相交的两条直线叫做平行线，也可以说这两条直线互相平行。};
\node[tl, anchor=east, text width=190pt] (endF2b) at (556,4600) {两条直线相交成直角，就说这两条直线互相垂直，其中一条直线叫做另一条直线的垂线。};
\node[tl, anchor=east, text width=185pt] (endF3) at (715,4720) {3、生活中哪些地方用到了平行和垂直?};
\node[tl, anchor=east, text width=190pt] (endF3a) at (503,4680) {黑板相对的两条边互相平行，相邻的两条边互相垂直；窗户的边框、门框、课桌的边等也有平行和垂直的现象。};
\node[tl, anchor=east, text width=190pt] (endF3b) at (503,4770) {马路上的斑马线、铁路的铁轨、双杠的两根杠互相平行；十字路口的两条马路互相垂直等等，让学生多举例子。};
\node[tl, anchor=east] (endF4) at (715,4870) {4、布置作业};
\node[tl, anchor=east, text width=200pt] (endF4a) at (610,4870) {完成课本练习中的习题，回家找一找生活中还有哪些平行和垂直的现象。};
\node[tl, anchor=east, text width=185pt] (endF5) at (715,4980) {5、板书设计：平行与垂直};
\node[tl, anchor=east, text width=190pt] (endF5a) at (503,4985) {在同一平面内，两条直线的位置关系：相交和不相交。不相交的两条直线叫做平行线；相交成直角的两条直线互相垂直。};

\draw[link, draw=tealn, lk] (m5) to (stepF1) (m5) to (stepF2) (m5) to (stepF3) (m5) to (stepF4) (m5) to (stepF5) (m5) to (stepF6);
\draw[link, draw=tealn, lk] (stepF1) to (paraF) (stepF1) to (askF1) (stepF1) to (askF2) (stepF1) to (askF3);
\draw[link, draw=tealn, lk] (askF2) to (kidF1) (askF2) to (kidF2) (stepF2) to (findF1);
\draw[link, draw=tealn, lk] (stepF3) to (talkF1) (stepF3) to (talkF2);
\draw[link, draw=tealn, lk] (stepF4) to (drawF1) (stepF4) to (drawF2) (stepF4) to (drawF3) (drawF1) to (drawF1a) (drawF1) to (drawF1b);
\draw[link, draw=tealn, lk] (stepF5) to (pracF1) (stepF5) to (pracF2) (stepF5) to (pracF3) (stepF5) to (pracF4) (pracF1) to (pracF1a);
\draw[link, draw=tealn, lk] (stepF6) to (endF1) (stepF6) to (endF2) (stepF6) to (endF3) (stepF6) to (endF4) (stepF6) to (endF5);
\draw[link, draw=tealn, lk] (endF2) to (endF2a) (endF2) to (endF2b) (endF3) to (endF3a) (endF3) to (endF3b) (endF4) to (endF4a) (endF5) to (endF5a);

% ---------------- 合集 ----------------
\node[topic, fill=orn] (m6) at (1402,4493) {四年级数学上册教案全册最新范文合\\集};
\node[ol, anchor=west, text width=178pt] (listG1) at (1530,4295) {★ 2021新人教版四年级数学上册全册教案文案};
\node[ol, anchor=west] (listG2) at (1530,4341) {★ 新苏教版四年级数学上册教案最新范文};
\node[ol, anchor=west, text width=178pt] (listG3) at (1530,4386) {★ 2021新人教版小学数学四年级上册教案范文};
\node[ol, anchor=west, text width=178pt] (listG4) at (1530,4437) {★ 2021最新人教版小学四年级数学上册全册教案};
\node[ol, anchor=west] (listG5) at (1530,4483) {★ 2021人教版小学四年级数学上册教案例文};
\node[ol, anchor=west] (listG6) at (1530,4522) {★ 新人教版四年级上册数学教案2021范文};
\node[ol, anchor=west] (listG7) at (1530,4562) {★ 2021最新四年级上册数学教案范文};
\node[ol, anchor=west] (listG8) at (1530,4602) {★ 2021新人教版四年级数学上册教案范文};
\node[ol, anchor=west, text width=178pt] (listG9) at (1530,4647) {★ 2021新人教版小学四年级数学上册教案文案};
\node[ol, anchor=west] (listG10) at (1530,4693) {★ 人教版小学数学四年级教案最新范文};
\draw[link, draw=ornln, rk] (m6) to (listG1) (m6) to (listG2) (m6) to (listG3) (m6) to (listG4) (m6) to (listG5) (m6) to (listG6) (m6) to (listG7) (m6) to (listG8) (m6) to (listG9) (m6) to (listG10);

% main branches
\draw[main, draw=ornln] (hub.north) .. controls (1157,1000) and (1200,787) .. (intro.west);
\draw[main, draw=ornln] (hub.north) .. controls (1157,1300) and (1090,1081) .. (m1.east);
\draw[main, draw=tealn] (hub.north) .. controls (1157,1600) and (1210,1438) .. (m2.west);
\draw[main, draw=skyln] (hub.north) .. controls (1157,2520) and (1080,2505) .. (m3.east);
\draw[main, draw=skyln] (hub.south) .. controls (1157,3250) and (1210,3333) .. (m4.west);
\draw[main, draw=tealn] (hub.south) .. controls (1157,4050) and (1090,4160) .. (m5.east);
\draw[main, draw=ornln] (hub.south) .. controls (1157,4400) and (1210,4493) .. (m6.west);
\end{tikzpicture}
\end{document}
